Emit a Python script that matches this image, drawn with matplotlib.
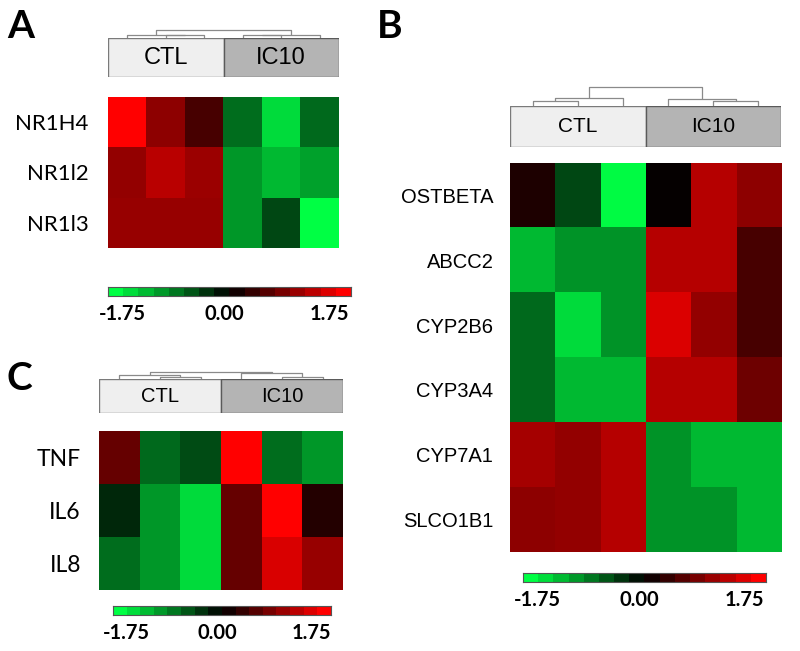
import numpy as np
import matplotlib
matplotlib.use("Agg")
import matplotlib.pyplot as plt
from matplotlib.colors import LinearSegmentedColormap
from matplotlib.patches import Rectangle

# ---------------- data ----------------
groups = ["CTL", "IC10"]

genes_a = ["NR1H4", "NR1l2", "NR1l3"]
values_a = [
    [1.75, 0.96, 0.48, -0.75, -1.50, -0.72],
    [1.00, 1.27, 1.06, -1.03, -1.27, -1.10],
    [1.03, 1.03, 1.03, -1.03, -0.48, -1.75],
]

genes_b = ["OSTBETA", "ABCC2", "CYP2B6", "CYP3A4", "CYP7A1", "SLCO1B1"]
values_b = [
    [0.20, -0.48, -1.72, 0.03, 1.24, 0.96],
    [-1.27, -1.00, -1.00, 1.24, 1.24, 0.48],
    [-0.72, -1.50, -1.00, 1.50, 1.00, 0.48],
    [-0.72, -1.27, -1.27, 1.24, 1.24, 0.75],
    [1.13, 1.00, 1.24, -1.00, -1.27, -1.27],
    [0.96, 1.00, 1.24, -1.00, -1.00, -1.27],
]

genes_c = ["TNF", "IL6", "IL8"]
values_c = [
    [0.69, -0.72, -0.51, 1.75, -0.75, -1.03],
    [-0.27, -1.03, -1.50, 0.69, 1.75, 0.24],
    [-0.75, -1.03, -1.50, 0.69, 1.48, 1.03],
]

# dendrogram linkages: (node_a, node_b, height); leaves 0..5, new nodes 6..
link_a = [(1, 2, 3.0), (0, 6, 3.5), (3, 4, 3.0), (8, 5, 3.5), (7, 9, 8.0)]
link_b = [(0, 1, 5.0), (6, 2, 8.0), (4, 5, 5.0), (3, 8, 7.0), (7, 9, 19.0)]
link_c = [(1, 2, 2.0), (0, 6, 4.0), (4, 5, 2.0), (3, 8, 6.0), (7, 9, 7.0)]

vmin, vmax = -1.75, 1.75
cbar_ticks = ["-1.75", "0.00", "1.75"]

# ---------------- style ----------------
W, H = 800, 651
fig = plt.figure(figsize=(W / 100, H / 100), dpi=100)

cmap = LinearSegmentedColormap.from_list(
    "gbr", [(0.0, 1.0, 0.27), (0.0, 0.0, 0.0), (1.0, 0.0, 0.0)])
ARIAL = "Liberation Sans"
CAL = "Lato"


def px_axes(x, y, w, h):
    return fig.add_axes([x / W, 1 - (y + h) / H, w / W, h / H])


def fig_text(x, y, s, **kw):
    fig.text(x / W, 1 - y / H, s, **kw)


def heatmap(rect, vals, genes, label_font, label_size, label_gap):
    x, y, w, h = rect
    ax = px_axes(x, y, w, h)
    ax.imshow(np.array(vals), cmap=cmap, vmin=vmin, vmax=vmax,
              aspect="auto", interpolation="nearest")
    ax.set_xticks([])
    ax.set_yticks(range(len(genes)))
    ax.set_yticklabels(genes, fontsize=label_size, family=label_font)
    ax.tick_params(axis="y", length=0, pad=label_gap)
    for s in ax.spines.values():
        s.set_visible(False)
    return ax


def group_box(rect, size):
    x, y, w, h = rect
    ax = px_axes(x, y, w, h)
    ax.set_xlim(0, 6)
    ax.set_ylim(0, 1)
    ax.add_patch(Rectangle((0, 0), 3, 1, facecolor="#efefef",
                           edgecolor="#7a7a7a", lw=1.0))
    ax.add_patch(Rectangle((3, 0), 3, 1, facecolor="#b4b4b4",
                           edgecolor="#5a5a5a", lw=1.0))
    ax.text(1.5, 0.5, groups[0], ha="center", va="center",
            fontsize=size, family=ARIAL)
    ax.text(4.5, 0.5, groups[1], ha="center", va="center",
            fontsize=size, family=ARIAL)
    ax.axis("off")


def dendrogram(rect, link):
    x, y, w, h = rect  # h in px; 1 unit = 1 px
    ax = px_axes(x, y - h, w, h)
    ax.set_xlim(0, 6)
    ax.set_ylim(0, h)
    pos = {i: (i + 0.5, 0.0) for i in range(6)}
    for k, (a, b, ht) in enumerate(link):
        xa, ya = pos[a]
        xb, yb = pos[b]
        ax.plot([xa, xa, xb, xb], [ya, ht, ht, yb], color="#8a8a8a",
                lw=0.9, solid_capstyle="butt")
        pos[6 + k] = ((xa + xb) / 2, ht)
    ax.axis("off")


def colorbar(rect, size):
    x, y, w, h = rect
    ax = px_axes(x, y, w, h)
    steps = np.linspace(vmin, vmax, 16)[None, :]
    ax.imshow(steps, cmap=cmap, vmin=vmin, vmax=vmax, aspect="auto",
              interpolation="nearest")
    ax.set_xticks([])
    ax.set_yticks([])
    for s in ax.spines.values():
        s.set_color("#555555")
        s.set_linewidth(0.8)
    for frac, lab in zip([0.06, 0.48, 0.91], cbar_ticks):
        fig_text(x + frac * w, y + h + 18, lab, ha="center", va="center",
                 fontsize=size, fontweight="bold", family=CAL)


# ---------------- panel A ----------------
heatmap((108, 97, 231, 151), values_a, genes_a, CAL, 16, 14)
group_box((108, 38, 231, 39), 17)
dendrogram((108, 38, 231, 10), link_a)
colorbar((108, 287, 243, 9), 14.5)
fig_text(7, 38, "A", fontsize=28, fontweight="bold", family=CAL,
         va="baseline")

# ---------------- panel B ----------------
heatmap((510, 163, 271, 389), values_b, genes_b, ARIAL, 14.5, 12)
group_box((510, 106, 271, 41), 15)
dendrogram((510, 106, 271, 21), link_b)
colorbar((523, 573, 243, 9), 14.5)
fig_text(377, 37.5, "B", fontsize=28, fontweight="bold", family=CAL,
         va="baseline")

# ---------------- panel C ----------------
heatmap((99, 431, 244, 159), values_c, genes_c, CAL, 16.5, 13)
group_box((99, 379, 244, 34), 14.5)
dendrogram((99, 379, 244, 9), link_c)
colorbar((113, 606, 218, 9), 14.5)
fig_text(7, 390, "C", fontsize=28, fontweight="bold", family=CAL,
         va="baseline")

fig.savefig("out.png", dpi=100)
